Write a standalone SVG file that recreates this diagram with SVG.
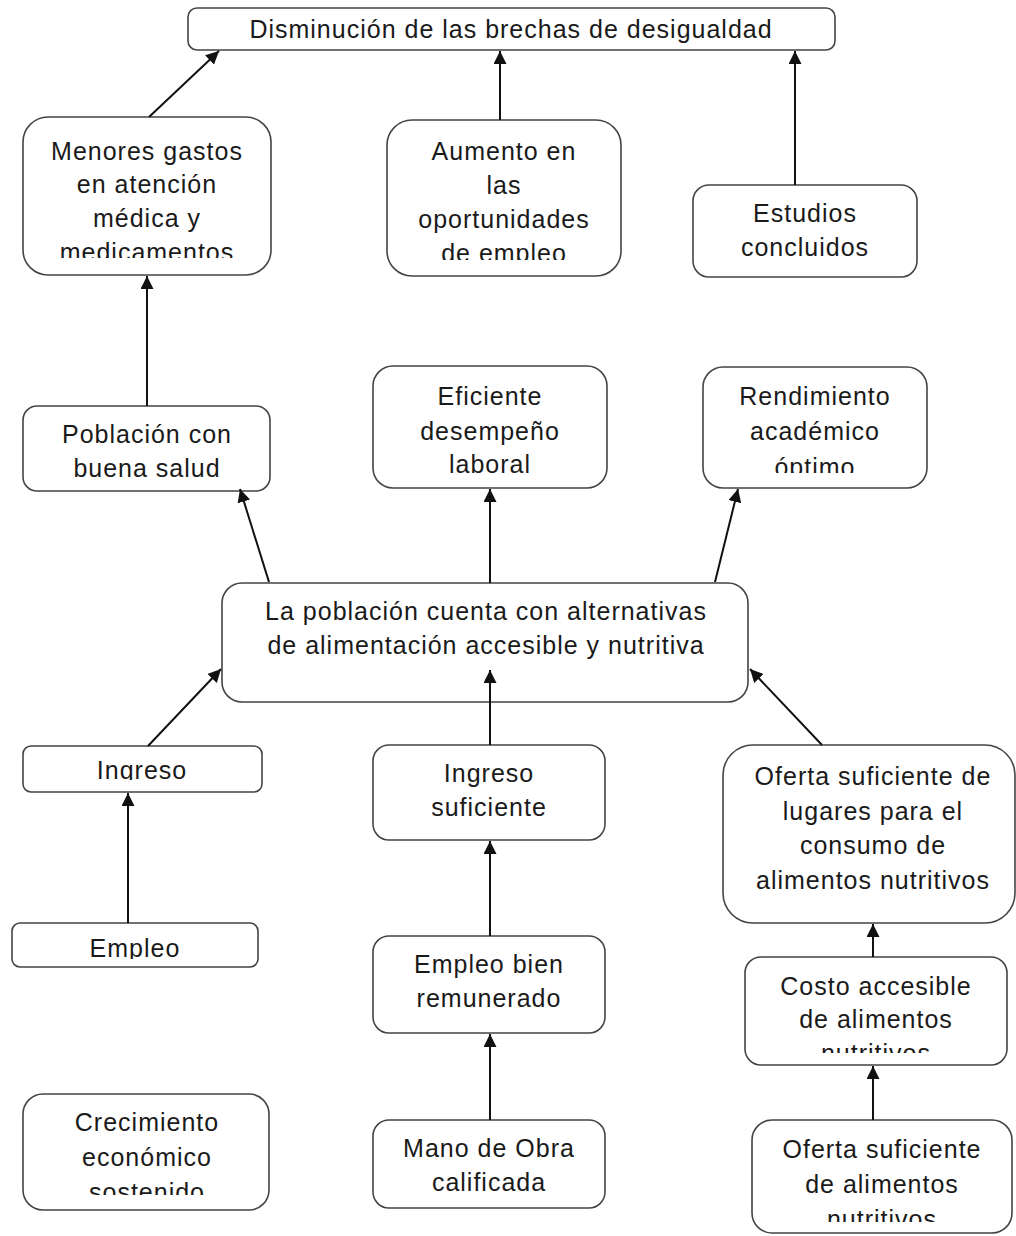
<svg xmlns="http://www.w3.org/2000/svg" width="1016" height="1236" viewBox="0 0 1016 1236">
<style>
.box{fill:#fff;stroke:#444;stroke-width:1.6}
.t{font-family:"Liberation Sans",Arial,sans-serif;font-size:25px;fill:#1a1a1a;text-anchor:middle;letter-spacing:1px}
.c{stroke:#111;stroke-width:2;fill:none;marker-end:url(#ah)}
</style>
<defs>
<marker id="ah" viewBox="0 0 10 10" refX="10" refY="5" markerWidth="6.5" markerHeight="6.5" orient="auto" markerUnits="strokeWidth">
<path d="M0,0 L10,5 L0,10 z" fill="#111"/>
</marker>
<clipPath id="cMen"><rect x="23" y="117" width="248" height="141"/></clipPath>
<clipPath id="cAum"><rect x="387" y="120" width="234" height="140"/></clipPath>
<clipPath id="cRen"><rect x="703" y="367" width="224" height="106"/></clipPath>
<clipPath id="cIng"><rect x="23" y="746" width="239" height="34"/></clipPath>
<clipPath id="cEmp"><rect x="12" y="923" width="246" height="36"/></clipPath>
<clipPath id="cCos"><rect x="745" y="957" width="262" height="96"/></clipPath>
<clipPath id="cOfa"><rect x="752" y="1120" width="260" height="102"/></clipPath>
<clipPath id="cCre"><rect x="23" y="1094" width="246" height="101"/></clipPath>
</defs>

<g id="n-top">
<rect class="box" x="188" y="8" width="647" height="42" rx="9"/>
<text class="t" x="511" y="38">Disminución de las brechas de desigualdad</text>
</g>

<g id="n-menores">
<rect class="box" x="23" y="117" width="248" height="158" rx="25"/>
<g clip-path="url(#cMen)">
<text class="t" x="147" y="160">Menores gastos</text>
<text class="t" x="147" y="193">en atención</text>
<text class="t" x="147" y="227">médica y</text>
<text class="t" x="147" y="261">medicamentos</text>
</g>
</g>

<g id="n-aumento">
<rect class="box" x="387" y="120" width="234" height="156" rx="25"/>
<g clip-path="url(#cAum)">
<text class="t" x="504" y="160">Aumento en</text>
<text class="t" x="504" y="194">las</text>
<text class="t" x="504" y="228">oportunidades</text>
<text class="t" x="504" y="262">de empleo</text>
</g>
</g>

<g id="n-estudios">
<rect class="box" x="693" y="185" width="224" height="92" rx="16"/>
<text class="t" x="805" y="222">Estudios</text>
<text class="t" x="805" y="256">concluidos</text>
</g>

<g id="n-poblacion">
<rect class="box" x="23" y="406" width="247" height="85" rx="14"/>
<text class="t" x="147" y="443">Población con</text>
<text class="t" x="147" y="477">buena salud</text>
</g>

<g id="n-eficiente">
<rect class="box" x="373" y="366" width="234" height="122" rx="20"/>
<text class="t" x="490" y="405">Eficiente</text>
<text class="t" x="490" y="440">desempeño</text>
<text class="t" x="490" y="473">laboral</text>
</g>

<g id="n-rendimiento">
<rect class="box" x="703" y="367" width="224" height="121" rx="20"/>
<g clip-path="url(#cRen)">
<text class="t" x="815" y="405">Rendimiento</text>
<text class="t" x="815" y="440">académico</text>
<text class="t" x="815" y="476">óptimo</text>
</g>
</g>

<g id="n-central">
<rect class="box" x="222" y="583" width="526" height="119" rx="20"/>
<text class="t" x="486" y="620">La población cuenta con alternativas</text>
<text class="t" x="486" y="654">de alimentación accesible y nutritiva</text>
</g>

<g id="n-ingreso">
<rect class="box" x="23" y="746" width="239" height="46" rx="8"/>
<g clip-path="url(#cIng)">
<text class="t" x="142" y="779">Ingreso</text>
</g>
</g>

<g id="n-ingreso-suf">
<rect class="box" x="373" y="745" width="232" height="95" rx="16"/>
<text class="t" x="489" y="782">Ingreso</text>
<text class="t" x="489" y="816">suficiente</text>
</g>

<g id="n-oferta-lugares">
<rect class="box" x="723" y="745" width="292" height="178" rx="30"/>
<text class="t" x="873" y="785">Oferta suficiente de</text>
<text class="t" x="873" y="820">lugares para el</text>
<text class="t" x="873" y="854">consumo de</text>
<text class="t" x="873" y="889">alimentos nutritivos</text>
</g>

<g id="n-empleo">
<rect class="box" x="12" y="923" width="246" height="44" rx="8"/>
<g clip-path="url(#cEmp)">
<text class="t" x="135" y="957">Empleo</text>
</g>
</g>

<g id="n-empleo-bien">
<rect class="box" x="373" y="936" width="232" height="97" rx="16"/>
<text class="t" x="489" y="973">Empleo bien</text>
<text class="t" x="489" y="1007">remunerado</text>
</g>

<g id="n-costo">
<rect class="box" x="745" y="957" width="262" height="108" rx="16"/>
<g clip-path="url(#cCos)">
<text class="t" x="876" y="995">Costo accesible</text>
<text class="t" x="876" y="1028">de alimentos</text>
<text class="t" x="876" y="1062">nutritivos</text>
</g>
</g>

<g id="n-crecimiento">
<rect class="box" x="23" y="1094" width="246" height="116" rx="20"/>
<g clip-path="url(#cCre)">
<text class="t" x="147" y="1131">Crecimiento</text>
<text class="t" x="147" y="1166">económico</text>
<text class="t" x="147" y="1201">sostenido</text>
</g>
</g>

<g id="n-mano">
<rect class="box" x="373" y="1120" width="232" height="88" rx="16"/>
<text class="t" x="489" y="1157">Mano de Obra</text>
<text class="t" x="489" y="1191">calificada</text>
</g>

<g id="n-oferta-alimentos">
<rect class="box" x="752" y="1120" width="260" height="113" rx="20"/>
<g clip-path="url(#cOfa)">
<text class="t" x="882" y="1158">Oferta suficiente</text>
<text class="t" x="882" y="1193">de alimentos</text>
<text class="t" x="882" y="1228">nutritivos</text>
</g>
</g>

<g id="connectors">
<line class="c" x1="149" y1="117" x2="219" y2="51"/>
<line class="c" x1="500" y1="120" x2="500" y2="51"/>
<line class="c" x1="795" y1="185" x2="795" y2="51"/>
<line class="c" x1="147" y1="406" x2="147" y2="276"/>
<line class="c" x1="269" y1="582" x2="240" y2="489"/>
<line class="c" x1="490" y1="583" x2="490" y2="489"/>
<line class="c" x1="715" y1="582" x2="738" y2="489"/>
<line class="c" x1="148" y1="746" x2="221" y2="669"/>
<line class="c" x1="490" y1="745" x2="490" y2="670"/>
<line class="c" x1="822" y1="745" x2="750" y2="669"/>
<line class="c" x1="128" y1="923" x2="128" y2="793"/>
<line class="c" x1="490" y1="936" x2="490" y2="841"/>
<line class="c" x1="490" y1="1120" x2="490" y2="1034"/>
<line class="c" x1="873" y1="957" x2="873" y2="924"/>
<line class="c" x1="873" y1="1120" x2="873" y2="1066"/>
</g>
</svg>
